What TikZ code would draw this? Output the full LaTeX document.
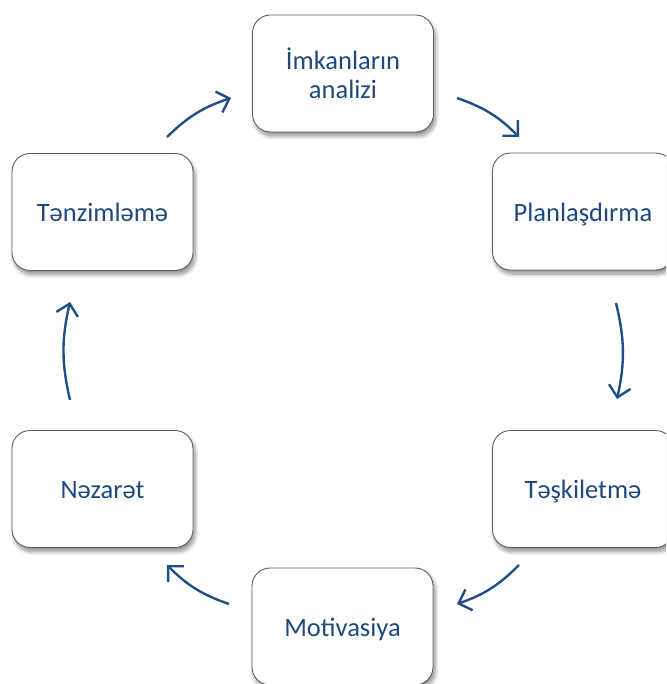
\documentclass[tikz,border=0pt]{standalone}
\usepackage{fontspec}
\setmainfont{Carlito}
\usetikzlibrary{arrows.meta,shadows.blur}
\definecolor{txtblue}{RGB}{31,73,125}
\definecolor{arrblue}{RGB}{33,78,135}
\definecolor{boxedge}{RGB}{95,95,95}
\newcommand{\lowtxt}[1]{\smash{\raisebox{-9.5pt}{#1}}}
\tikzset{
  stagebox/.style={draw=boxedge, line width=0.9pt, fill=white, rounded corners=18pt,
    minimum width=181pt, minimum height=117pt, inner sep=0pt,
    text=txtblue, font=\fontsize{26.5}{29}\selectfont, align=center,
    blur shadow={shadow xshift=2pt, shadow yshift=-4pt, shadow blur steps=10, shadow blur radius=4pt, shadow opacity=45}},
  cyc/.style={draw=arrblue, line width=2.4pt, bend left=13,
    -{Straight Barb[length=11pt,width=22pt,line width=2.4pt]}}
}
\begin{document}
\begin{tikzpicture}[x=1pt,y=-1pt]
\useasboundingbox (0,0) rectangle (666,684);
\clip (0,0) rectangle (666,684);
\node[stagebox] (imk) at (343,73.5) {İmkanların\\analizi};
\node[stagebox] (plan) at (583,211.5) {\lowtxt{Planlaşdırma}};
\node[stagebox] (tesk) at (583,489) {\lowtxt{Təşkiletmə}};
\node[stagebox] (motiv) at (342.5,626.5) {\lowtxt{Motivasiya}};
\node[stagebox] (nez) at (102.5,489) {\lowtxt{Nəzarət}};
\node[stagebox] (tenz) at (102.5,212) {\lowtxt{Tənzimləmə}};
\coordinate (a1s) at (167,137); \coordinate (a1e) at (231,98);
\coordinate (a2s) at (457,98);  \coordinate (a2e) at (519,137);
\coordinate (a3s) at (616,303); \coordinate (a3e) at (617,399);
\coordinate (a4s) at (519,565); \coordinate (a4e) at (457,604);
\coordinate (a5s) at (229,604); \coordinate (a5e) at (167,565);
\coordinate (a6s) at (70,400);  \coordinate (a6e) at (70,302);
\draw[cyc] (a1s) to (a1e);
\draw[cyc] (a2s) to (a2e);
\draw[cyc] (a3s) to (a3e);
\draw[cyc] (a4s) to (a4e);
\draw[cyc] (a5s) to (a5e);
\draw[cyc] (a6s) to (a6e);
\end{tikzpicture}
\end{document}
